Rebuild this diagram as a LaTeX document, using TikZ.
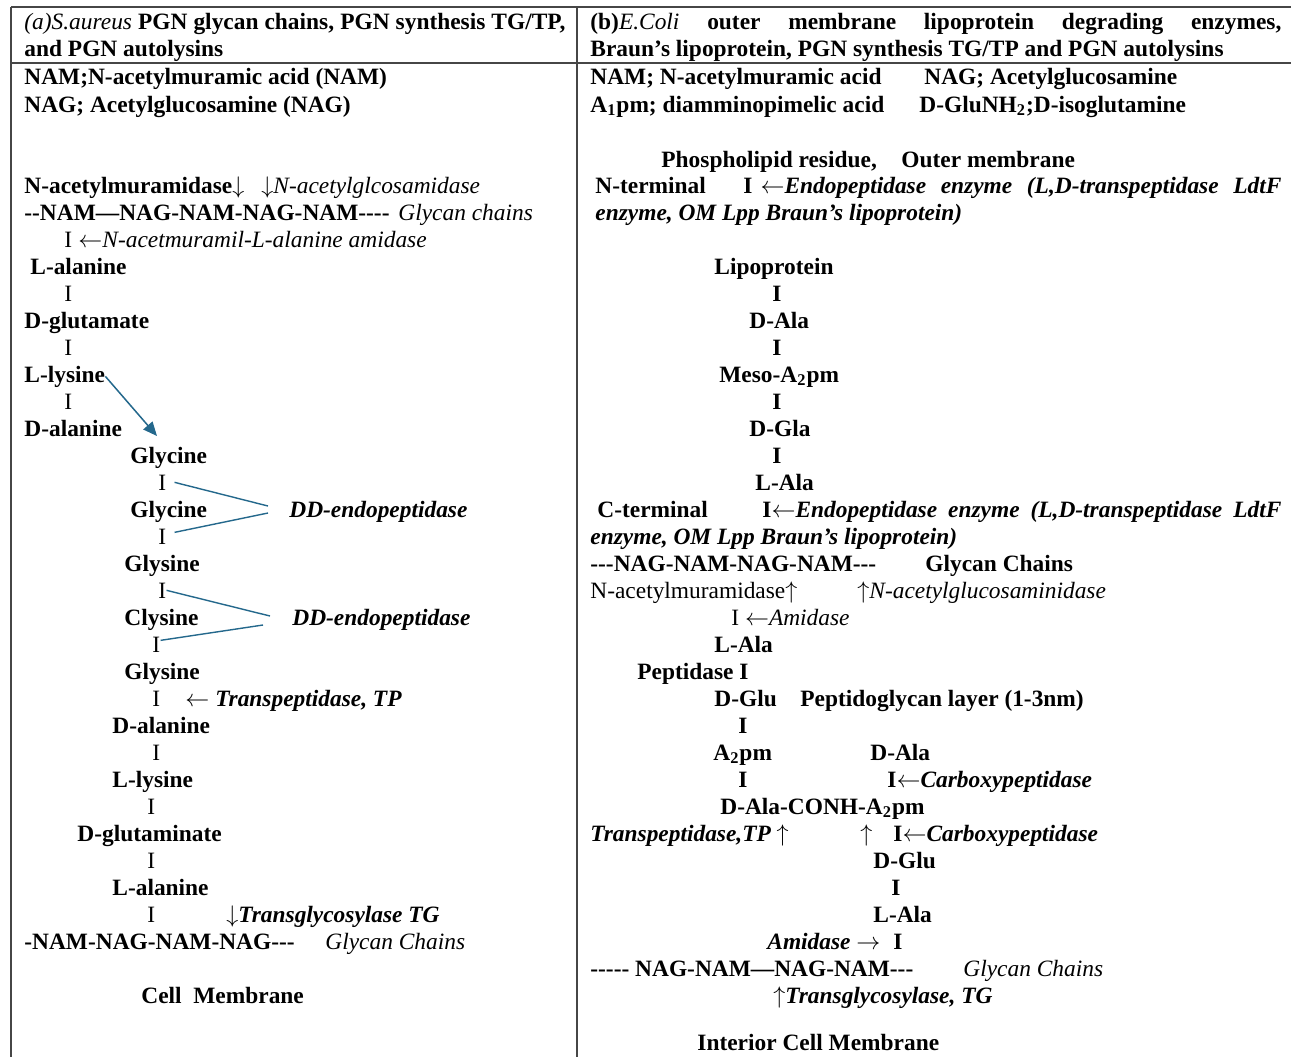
\documentclass[tikz,border=0pt]{standalone}
\usepackage{fontspec}
\setmainfont{Liberation Serif}[Ligatures=TeXOff]
\usetikzlibrary{arrows.meta}

\definecolor{linkblue}{RGB}{36,104,140}
\definecolor{rulegray}{RGB}{70,70,70}
\newcommand{\tabfont}{\fontsize{11.7}{14}\selectfont}

\begin{document}
\begin{tikzpicture}[x=0.5pt, y=-0.5pt, >={Triangle[length=7pt,width=6pt]}]

  % Stili
  \tikzstyle{txt} = [anchor=base west, inner sep=0pt, font=\tabfont\bfseries]
  \tikzstyle{plain} = [anchor=base west, inner sep=0pt, font=\tabfont]
  \tikzstyle{enz} = [anchor=base west, inner sep=0pt, font=\tabfont\bfseries\itshape]
  \tikzstyle{enzlight} = [anchor=base west, inner sep=0pt, font=\tabfont\itshape]
  \tikzstyle{rule} = [draw=rulegray, line width=0.8pt]
  \tikzstyle{link} = [draw=linkblue, line width=0.7pt]

  \useasboundingbox (0,0) rectangle (1291,1057);
  \fill[white] (0,0) rectangle (1291,1057);

  % Tabella
  \draw[rule] (11,7) -- (1291,7);
  \draw[rule] (11,63) -- (1291,63);
  \draw[rule] (11,7) -- (11,1057);
  \draw[rule] (577,7) -- (577,1057);

  % Intestazioni
  \node[txt] (headA1) at (24,29) {\makebox[270.5pt][s]{{\mdseries\itshape (a)S.aureus} PGN glycan chains, PGN synthesis TG/TP,}};
  \node[txt] (headA2) at (24,56) {and PGN autolysins};
  \node[txt] (headB1) at (590,29) {\makebox[345.5pt][s]{(b){\mdseries\itshape E.Coli} outer membrane lipoprotein degrading enzymes,}};
  \node[txt] (headB2) at (590,56) {Braun’s lipoprotein, PGN synthesis TG/TP and PGN autolysins};

  % Colonna (a)
  \node[txt] (namA) at (24,84) {NAM;N-acetylmuramic acid (NAM)};
  \node[txt] (nagA) at (24,112) {NAG; Acetylglucosamine (NAG)};
  \node[txt] (murA) at (24,193) {N-acetylmuramidase$\downarrow$};
  \node[enzlight] (glcA) at (261,193) {$\downarrow$N-acetylglcosamidase};
  \node[txt] (chainA1) at (24,220) {--NAM—NAG-NAM-NAG-NAM----};
  \node[enzlight] (glyA1) at (398,220) {Glycan chains};
  \node[plain] (iA1) at (64,247) {I};
  \node[plain] (amiA) at (78,247) {$\leftarrow$\textit{N-acetmuramil-L-alanine amidase}};
  \node[txt] (lalaA1) at (30,274) {L-alanine};
  \node[plain] (iA2) at (64,301) {I};
  \node[txt] (dgluA1) at (24,328) {D-glutamate};
  \node[plain] (iA3) at (64,355) {I};
  \node[txt] (lysA1) at (24,382) {L-lysine};
  \node[plain] (iA4) at (64,409) {I};
  \node[txt] (dalaA1) at (24,436) {D-alanine};
  \node[txt] (gly1) at (130,463) {Glycine};
  \node[plain] (gI1) at (158,490) {I};
  \node[txt] (gly2) at (130,517) {Glycine};
  \node[enz] (dd1) at (289,517) {DD-endopeptidase};
  \node[plain] (gI2) at (158,544) {I};
  \node[txt] (gly3) at (124,571) {Glysine};
  \node[plain] (gI3) at (158,598) {I};
  \node[txt] (gly4) at (124,625) {Clysine};
  \node[enz] (dd2) at (292,625) {DD-endopeptidase};
  \node[plain] (gI4) at (152,652) {I};
  \node[txt] (gly5) at (124,679) {Glysine};
  \node[plain] (gI5) at (152,706) {I};
  \node[plain] (tpA) at (185,706) {$\leftarrow$\ \textbf{\textit{Transpeptidase, TP}}};
  \node[txt] (dalaA2) at (112,733) {D-alanine};
  \node[plain] (iA5) at (152,760) {I};
  \node[txt] (lysA2) at (112,787) {L-lysine};
  \node[plain] (iA6) at (147,814) {I};
  \node[txt] (dgluA2) at (77,841) {D-glutaminate};
  \node[plain] (iA7) at (147,868) {I};
  \node[txt] (lalaA2) at (112,895) {L-alanine};
  \node[plain] (iA8) at (147,922) {I};
  \node[enz] (tgA) at (226,922) {$\downarrow$Transglycosylase TG};
  \node[txt] (chainA2) at (24,949) {-NAM-NAG-NAM-NAG---};
  \node[enzlight] (glyA2) at (325,949) {Glycan Chains};
  \node[txt] (cellA) at (141,1003) {Cell\ \ Membrane};

  % Colonna (b)
  \node[txt] (namB) at (590,84) {NAM; N-acetylmuramic acid};
  \node[txt] (nagB) at (924,84) {NAG; Acetylglucosamine};
  \node[txt] (apmB) at (590,112) {A\textsubscript{1}pm; diamminopimelic acid};
  \node[txt] (isoB) at (919,112) {D-GluNH\textsubscript{2};D-isoglutamine};
  \node[txt] (phosB) at (661,167) {Phospholipid residue,};
  \node[txt] (omB) at (901,167) {Outer membrane};
  \node[txt] (ntermB) at (595,193) {N-terminal};
  \node[txt] (endoB1) at (743,193) {\makebox[269pt][s]{I\kern4pt$\leftarrow$\textit{Endopeptidase enzyme (L,D-transpeptidase LdtF}}};
  \node[enz] (endoB1b) at (595,220) {enzyme, OM Lpp Braun’s lipoprotein)};
  \node[txt] (lipoB) at (714,274) {Lipoprotein};
  \node[txt] (iB1) at (772,301) {I};
  \node[txt] (dalaB1) at (749,328) {D-Ala};
  \node[txt] (iB2) at (772,355) {I};
  \node[txt] (mesoB) at (719,382) {Meso-A\textsubscript{2}pm};
  \node[txt] (iB3) at (772,409) {I};
  \node[txt] (dglaB) at (749,436) {D-Gla};
  \node[txt] (iB4) at (772,463) {I};
  \node[txt] (lalaB1) at (755,490) {L-Ala};
  \node[txt] (ctermB) at (597,517) {C-terminal};
  \node[txt] (endoB2) at (762,517) {\makebox[259.5pt][s]{I$\leftarrow$\textit{Endopeptidase enzyme (L,D-transpeptidase LdtF}}};
  \node[enz] (endoB2b) at (590,544) {enzyme, OM Lpp Braun’s lipoprotein)};
  \node[txt] (chainB1) at (590,571) {---NAG-NAM-NAG-NAM---};
  \node[txt] (glyB1) at (925,571) {Glycan Chains};
  \node[plain] (murB) at (590,598) {N-acetylmuramidase$\uparrow$};
  \node[enzlight] (glcB) at (857,598) {$\uparrow$N-acetylglucosaminidase};
  \node[plain] (amiB1) at (731,625) {I $\leftarrow$\textit{Amidase}};
  \node[txt] (lalaB2) at (714,652) {L-Ala};
  \node[txt] (pepB) at (637,679) {Peptidase I};
  \node[txt] (dgluB1) at (714,706) {D-Glu};
  \node[txt] (pglB) at (800,706) {Peptidoglycan layer (1-3nm)};
  \node[txt] (iB5) at (738,733) {I};
  \node[txt] (apmB2) at (713,760) {A\textsubscript{2}pm};
  \node[txt] (dalaB2) at (870,760) {D-Ala};
  \node[txt] (iB6) at (738,787) {I};
  \node[txt] (carbB1) at (887,787) {I$\leftarrow$\textit{Carboxypeptidase}};
  \node[txt] (conhB) at (720,814) {D-Ala-CONH-A\textsubscript{2}pm};
  \node[enz] (tpB) at (590,841) {Transpeptidase,TP $\uparrow$};
  \node[plain] (upB) at (860,841) {$\uparrow$};
  \node[txt] (carbB2) at (893,841) {I$\leftarrow$\textit{Carboxypeptidase}};
  \node[txt] (dgluB2) at (873,868) {D-Glu};
  \node[txt] (iB7) at (891,895) {I};
  \node[txt] (lalaB3) at (873,922) {L-Ala};
  \node[enz] (amiB2) at (767,949) {Amidase $\rightarrow$};
  \node[txt] (iB8) at (893,949) {I};
  \node[txt] (chainB2) at (590,976) {----- NAG-NAM—NAG-NAM---};
  \node[enzlight] (glyB2) at (963,976) {Glycan Chains};
  \node[enz] (tgB) at (773,1003) {$\uparrow$Transglycosylase, TG};
  \node[txt] (cellB) at (697,1050) {Interior Cell Membrane};

  % Frecce
  \coordinate (tip) at (157,436);
  \coordinate (dd1u) at (268,506);
  \coordinate (dd1d) at (268,513);
  \coordinate (dd2u) at (270,616);
  \coordinate (dd2d) at (263,625);
  \draw[->, draw=linkblue, fill=linkblue, line width=0.75pt] (lysA1.east) -- (tip);
  \draw[link] ([xshift=4pt]gI1.east) -- (dd1u);
  \draw[link] ([xshift=4pt,yshift=2pt]gI2.east) -- (dd1d);
  \draw[link] (gI3.east) -- (dd2u);
  \draw[link] (dd2d) -- ([yshift=2pt]gI4.east);

\end{tikzpicture}
\end{document}
